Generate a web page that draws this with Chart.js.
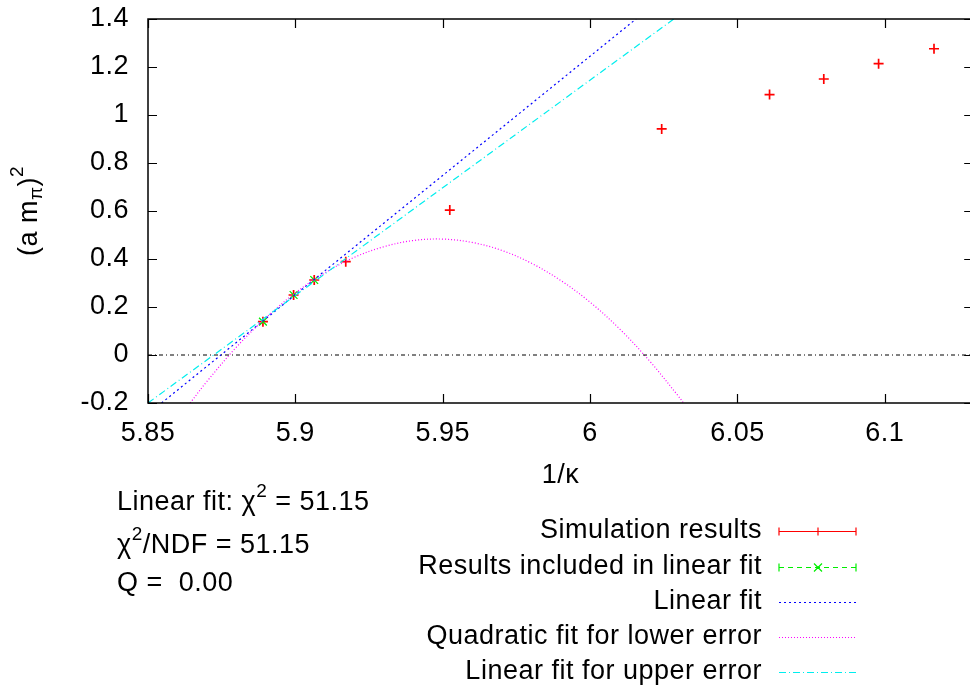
<!DOCTYPE html>
<html>
<head>
<meta charset="utf-8">
<script src="https://cdn.jsdelivr.net/npm/chart.js@4/dist/chart.umd.min.js"></script>
<style>
html,body{margin:0;padding:0;background:#fff;overflow:hidden;width:970px;height:693px;}
canvas{display:block;}
</style>
</head>
<body>
<canvas id="c" width="980" height="693"></canvas>
<script>
// ---- data ----
const simX = [5.889, 5.8994, 5.9064, 5.9171, 5.9524, 6.0243, 6.0609, 6.0793, 6.0979, 6.1167];
const simY = [0.139, 0.25, 0.3125, 0.389, 0.604, 0.942, 1.085, 1.15, 1.214, 1.276];
const inclX = [5.889, 5.8994, 5.9064];
const inclY = [0.139, 0.25, 0.3125];
const linFitX = [5.8546, 6.0156];
const linFitY = [-0.2, 1.4];
const upperFitX = [5.85, 6.0284];
const upperFitY = [-0.2, 1.4];
const quadX = [5.8643, 5.87, 5.88, 5.89, 5.90, 5.91, 5.92, 5.93, 5.94, 5.95, 5.96, 5.97, 5.98, 5.99, 6.00, 6.01, 6.02, 6.03, 6.0317];
const quadY = [-0.2, -0.110, 0.033, 0.155, 0.259, 0.342, 0.407, 0.451, 0.477, 0.483, 0.469, 0.436, 0.383, 0.311, 0.220, 0.109, -0.022, -0.172, -0.2];
const zeroX = [5.85, 6.13];
const zeroY = [0, 0];
const xTicks = [5.85, 5.9, 5.95, 6, 6.05, 6.1];
const xTickLabels = ['5.85', '5.9', '5.95', '6', '6.05', '6.1'];
const yTicks = [-0.2, 0, 0.2, 0.4, 0.6, 0.8, 1, 1.2, 1.4];
const yTickLabels = ['-0.2', '0', '0.2', '0.4', '0.6', '0.8', '1', '1.2', '1.4'];
const legendLabels = ['Simulation results', 'Results included in linear fit', 'Linear fit', 'Quadratic fit for lower error', 'Linear fit for upper error'];
const statsChi2 = '51.15';
const statsChi2NDF = '51.15';
const statsQ = '0.00';

const FONT = '"Liberation Sans", Arial, Helvetica, sans-serif';
const SPACING = '0.5px';
const FS = 27;   // main font size
const SS = 19;   // super/subscript size

function pts(xs, ys) { return xs.map((x, i) => ({x: x, y: ys[i]})); }

function drawRich(ctx, parts, x, y, align) {
  let total = 0;
  const widths = parts.map(p => { ctx.font = p.size + 'px ' + FONT; const w = ctx.measureText(p.t).width; total += w; return w; });
  let cx = align === 'right' ? x - total : (align === 'center' ? x - total / 2 : x);
  ctx.textAlign = 'left';
  ctx.textBaseline = 'middle';
  parts.forEach((p, i) => {
    ctx.font = p.size + 'px ' + FONT;
    ctx.fillText(p.t, cx, y + (p.dy || 0));
    cx += widths[i];
  });
}

const decor = {
  id: 'decor',
  beforeDraw(chart) {
    chart.ctx.letterSpacing = SPACING;
  },
  afterDraw(chart) {
    const ctx = chart.ctx;
    const a = chart.chartArea;
    const xs = chart.scales.x, ys = chart.scales.y;
    ctx.save();
    ctx.letterSpacing = SPACING;
    // frame
    ctx.strokeStyle = '#000';
    ctx.lineWidth = 1.5;
    ctx.setLineDash([]);
    ctx.strokeRect(a.left, a.top, a.right - a.left, a.bottom - a.top);
    // inward ticks on all sides
    ctx.lineWidth = 1.2;
    ctx.beginPath();
    xTicks.forEach(v => {
      const px = Math.round(xs.getPixelForValue(v)) + 0.5;
      ctx.moveTo(px, a.bottom); ctx.lineTo(px, a.bottom - 9);
      ctx.moveTo(px, a.top); ctx.lineTo(px, a.top + 9);
    });
    yTicks.forEach(v => {
      const py = Math.round(ys.getPixelForValue(v)) + 0.5;
      ctx.moveTo(a.left, py); ctx.lineTo(a.left + 9, py);
      ctx.moveTo(a.right, py); ctx.lineTo(a.right - 9, py);
    });
    ctx.stroke();

    ctx.fillStyle = '#000';
    // x axis title
    drawRich(ctx, [{t: '1/\u03ba', size: FS}], (a.left + a.right) / 2, 476, 'center');
    // y axis title (rotated)
    ctx.save();
    ctx.translate(30, (a.top + a.bottom) / 2);
    ctx.rotate(-Math.PI / 2);
    drawRich(ctx, [
      {t: '(a m', size: FS},
      {t: '\u03c0', size: SS, dy: 7},
      {t: ')', size: FS},
      {t: '2', size: SS, dy: -12}
    ], 0, 0, 'center');
    ctx.restore();

    // fit statistics
    drawRich(ctx, [{t: 'Linear fit: \u03c7', size: FS}, {t: '2', size: SS, dy: -11}, {t: ' = ' + statsChi2, size: FS}], 117, 503, 'left');
    drawRich(ctx, [{t: '\u03c7', size: FS}, {t: '2', size: SS, dy: -11}, {t: '/NDF = ' + statsChi2NDF, size: FS}], 117, 546, 'left');
    drawRich(ctx, [{t: 'Q =  ' + statsQ, size: FS}], 117, 584, 'left');

    // legend
    const rows = [531, 567, 602, 637, 672];
    const lx0 = 779, lx1 = 856, lmid = 818, textRight = 762;
    legendLabels.forEach((lab, i) => {
      ctx.fillStyle = '#000';
      drawRich(ctx, [{t: lab, size: FS}], textRight, rows[i], 'right');
    });
    // sample 1: red errorbar style
    let y = rows[0] + 0.5;
    ctx.strokeStyle = '#ff0000'; ctx.lineWidth = 1.2; ctx.setLineDash([]);
    ctx.beginPath();
    ctx.moveTo(lx0, y); ctx.lineTo(lx1, y);
    ctx.moveTo(lx0, y - 4); ctx.lineTo(lx0, y + 4);
    ctx.moveTo(lx1, y - 4); ctx.lineTo(lx1, y + 4);
    ctx.moveTo(lmid, y - 4); ctx.lineTo(lmid, y + 4);
    ctx.moveTo(lmid - 4, y); ctx.lineTo(lmid + 4, y);
    ctx.stroke();
    // sample 2: green dashed with x
    y = rows[1] + 0.5;
    ctx.strokeStyle = '#00ee00';
    ctx.setLineDash([5, 4]);
    ctx.beginPath(); ctx.moveTo(lx0, y); ctx.lineTo(lx1, y); ctx.stroke();
    ctx.setLineDash([]);
    ctx.beginPath();
    ctx.moveTo(lx0, y - 4); ctx.lineTo(lx0, y + 4);
    ctx.moveTo(lx1, y - 4); ctx.lineTo(lx1, y + 4);
    ctx.moveTo(lmid - 4, y - 4); ctx.lineTo(lmid + 4, y + 4);
    ctx.moveTo(lmid - 4, y + 4); ctx.lineTo(lmid + 4, y - 4);
    ctx.stroke();
    // sample 3: blue dotted
    y = rows[2] + 0.5;
    ctx.strokeStyle = '#0000ff'; ctx.setLineDash([2, 3]);
    ctx.beginPath(); ctx.moveTo(lx0, y); ctx.lineTo(lx1, y); ctx.stroke();
    // sample 4: magenta dotted
    y = rows[3] + 0.5;
    ctx.strokeStyle = '#ff00ff'; ctx.setLineDash([1, 2]);
    ctx.beginPath(); ctx.moveTo(lx0, y); ctx.lineTo(lx1, y); ctx.stroke();
    // sample 5: cyan dash-dot
    y = rows[4] + 0.5;
    ctx.strokeStyle = '#00eeee'; ctx.setLineDash([7, 3, 1, 3]);
    ctx.beginPath(); ctx.moveTo(lx0, y); ctx.lineTo(lx1, y); ctx.stroke();
    ctx.restore();
  }
};

new Chart(document.getElementById('c'), {
  type: 'scatter',
  data: {
    datasets: [
      {label: 'zero', data: pts(zeroX, zeroY), showLine: true, pointRadius: 0, borderColor: '#000', borderWidth: 1, borderDash: [4, 3, 1, 3]},
      {label: legendLabels[4], data: pts(upperFitX, upperFitY), showLine: true, pointRadius: 0, borderColor: '#00eeee', borderWidth: 1.2, borderDash: [7, 3, 1, 3]},
      {label: legendLabels[3], data: pts(quadX, quadY), showLine: true, pointRadius: 0, borderColor: '#ff00ff', borderWidth: 1.2, borderDash: [1, 2], tension: 0.35},
      {label: legendLabels[2], data: pts(linFitX, linFitY), showLine: true, pointRadius: 0, borderColor: '#0000ff', borderWidth: 1.2, borderDash: [2, 3]},
      {label: legendLabels[1], data: pts(inclX, inclY), showLine: false, pointStyle: 'crossRot', pointRadius: 5.5, borderColor: '#00ee00', backgroundColor: '#00ee00', borderWidth: 1.3},
      {label: legendLabels[0], data: pts(simX, simY), showLine: false, pointStyle: 'cross', pointRadius: 5, borderColor: '#ff0000', backgroundColor: '#ff0000', borderWidth: 1.7}
    ]
  },
  options: {
    responsive: false,
    animation: false,
    events: [],
    layout: {padding: {left: 0, top: 19, right: 3, bottom: 0}},
    plugins: {legend: {display: false}, tooltip: {enabled: false}, title: {display: false}},
    scales: {
      x: {
        type: 'linear', position: 'bottom', min: 5.85, max: 6.13,
        grid: {display: false, drawTicks: false}, border: {display: false},
        afterBuildTicks: s => { s.ticks = xTicks.map(v => ({value: v})); },
        afterFit: s => { s.height = 290; s.paddingLeft = 0; s.paddingRight = 0; },
        ticks: {
          autoSkip: false, maxRotation: 0, padding: 17, color: '#000',
          font: {family: FONT, size: FS, lineHeight: 1},
          callback: v => { const i = xTicks.indexOf(v); return i >= 0 ? xTickLabels[i] : ''; }
        }
      },
      y: {
        type: 'linear', position: 'left', min: -0.2, max: 1.4,
        grid: {display: false, drawTicks: false}, border: {display: false},
        afterBuildTicks: s => { s.ticks = yTicks.map(v => ({value: v})); },
        afterFit: s => { s.width = 148; s.paddingTop = 0; s.paddingBottom = 0; },
        ticks: {
          autoSkip: false, padding: 19, color: '#000',
          font: {family: FONT, size: FS, lineHeight: 1},
          callback: v => { const i = yTicks.indexOf(v); return i >= 0 ? yTickLabels[i] : ''; }
        }
      }
    }
  },
  plugins: [decor]
});
</script>
</body>
</html>
